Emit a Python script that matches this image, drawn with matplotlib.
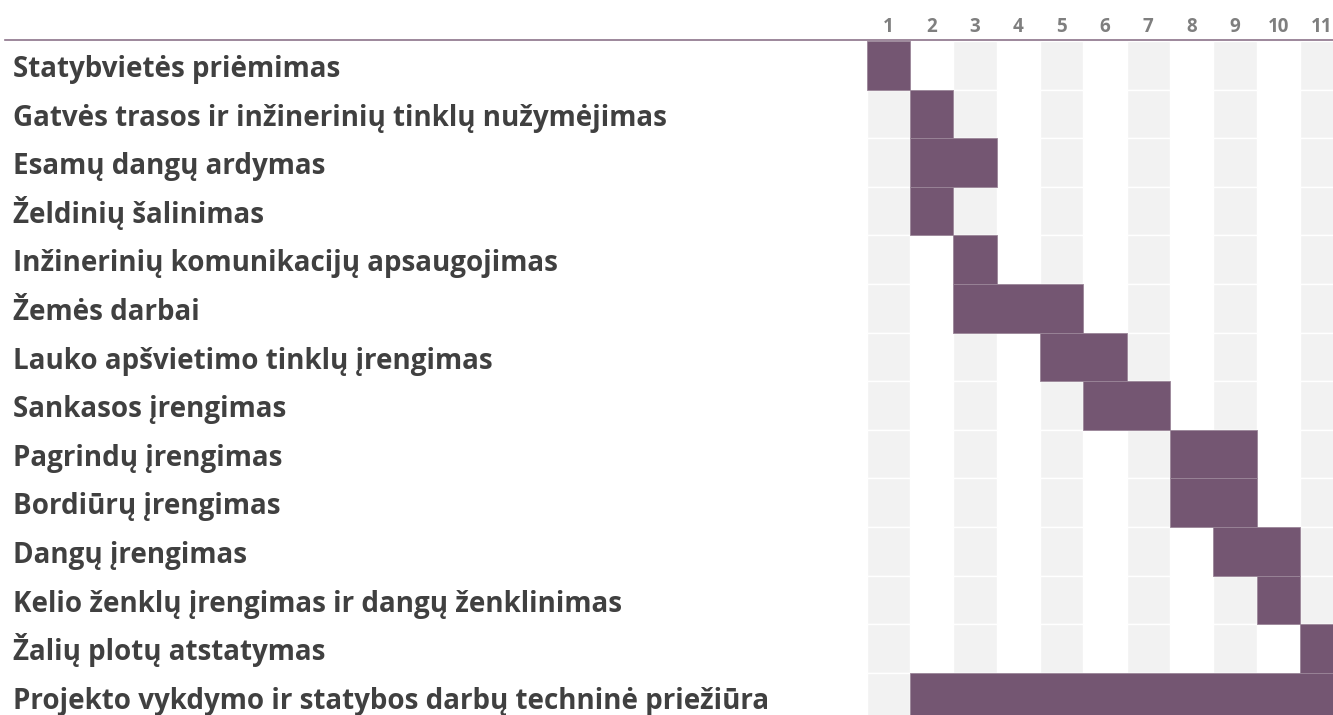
import matplotlib
matplotlib.use("Agg")
import matplotlib.pyplot as plt
from matplotlib.transforms import blended_transform_factory

plt.rcParams['font.family'] = ['Open Sans', 'DejaVu Sans']

tasks = [
    "Statybvietės priėmimas",
    "Gatvės trasos ir inžinerinių tinklų nužymėjimas",
    "Esamų dangų ardymas",
    "Želdinių šalinimas",
    "Inžinerinių komunikacijų apsaugojimas",
    "Žemės darbai",
    "Lauko apšvietimo tinklų įrengimas",
    "Sankasos įrengimas",
    "Pagrindų įrengimas",
    "Bordiūrų įrengimas",
    "Dangų įrengimas",
    "Kelio ženklų įrengimas ir dangų ženklinimas",
    "Žalių plotų atstatymas",
    "Projekto vykdymo ir statybos darbų techninė priežiūra",
]
# start period and duration (periods)
starts = [1, 2, 2, 2, 3, 3, 5, 6, 8, 8, 9, 10, 11, 2]
durations = [1, 1, 2, 1, 1, 3, 2, 2, 2, 2, 2, 1, 1, 10]
periods = list(range(1, 12))

BAR = "#745672"
GRAY = "#F2F2F2"
TEXT = "#404040"

W, H = 1333, 715
fig = plt.figure(figsize=(W / 100, H / 100), dpi=100)

col_w = 43.33
row_h = 48.6
left_px = 866.7
top_px = 41.0
ax = fig.add_axes([left_px / W, 0, 1 - left_px / W, 1 - top_px / H])
ax.set_xlim(0, (W - left_px) / col_w)
ax.set_ylim((H - top_px) / row_h, 0)
ax.axis("off")

n = len(tasks)
# background grid of cells
for r in range(n):
    for p in periods:
        if p % 2 == 1:
            ax.add_patch(plt.Rectangle((p - 1, r), 1, 1, facecolor=GRAY,
                                       edgecolor="white", linewidth=1.0, zorder=1))

# bars
for r, (s, d) in enumerate(zip(starts, durations)):
    ax.barh(r + 0.5, d, left=s - 1, height=1.0, color=BAR,
            edgecolor="#9a8598", linewidth=0.6, zorder=2)

# task labels
tr = blended_transform_factory(fig.transFigure, ax.transData)
for r, t in enumerate(tasks):
    ax.text(13 / W, r + 0.74, t, transform=tr, ha="left", va="baseline",
            fontsize=20, fontweight="bold", color=TEXT, clip_on=False)

# period numbers
trx = blended_transform_factory(ax.transData, fig.transFigure)
for p in periods:
    ax.text(p - 0.5, 1 - 32 / H, str(p), transform=trx, ha="center", va="baseline",
            fontsize=13.5, fontweight="bold", color="#7F7F7F", clip_on=False)

# header line
fig.add_artist(plt.Line2D([5 / W, 1], [1 - 40 / H, 1 - 40 / H], color="#8C738A",
                          linewidth=1.2, transform=fig.transFigure))

fig.savefig("out.png", dpi=100, facecolor="white")
